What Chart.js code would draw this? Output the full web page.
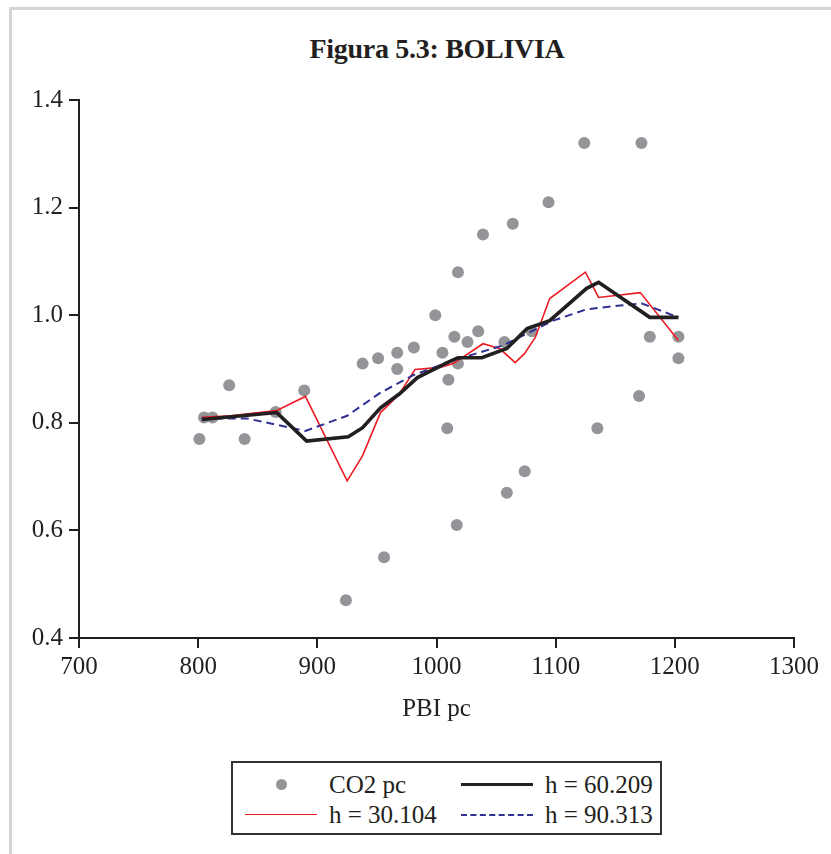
<!DOCTYPE html>
<html>
<head>
<meta charset="utf-8">
<script src="https://cdn.jsdelivr.net/npm/chart.js"></script>
<style>
  html, body { margin: 0; padding: 0; background: #fff; }
  body { width: 831px; height: 854px; position: relative; overflow: hidden; font-family: 'Liberation Serif', 'Times New Roman', serif; color: #231f20; }
  #frame { position: absolute; left: 9px; top: 7px; right: -10px; bottom: -10px; border-left: 3px solid #d4d4d4; border-top: 3px solid #d4d4d4; }
  #title { position: absolute; left: 0; width: 874px; top: 35px; text-align: center; font-weight: bold; font-size: 28px; line-height: 28px; letter-spacing: -0.3px; }
  #chartWrap { position: absolute; left: 0; top: 0; width: 831px; height: 724px; }
  #legend { position: absolute; left: 231px; top: 761px; width: 427px; height: 70px; border: 2px solid #333; font-size: 25px; }
  .item { position: absolute; height: 30px; line-height: 30px; }
  .mark { position: absolute; top: 15px; }
</style>
</head>
<body>
<div id="frame"></div>
<div id="title">Figura 5.3: BOLIVIA</div>
<div id="chartWrap"><canvas id="c" width="831" height="724"></canvas></div>
<div id="legend"></div>
<script>
// CO2 pc (scatter)
const pbiPc = [801, 805, 812, 826, 839, 865, 889, 924, 938, 951, 956, 967, 967, 981, 999, 1005, 1009, 1010, 1015, 1017, 1018, 1018, 1026, 1035, 1039, 1057, 1059, 1064, 1074, 1080, 1094, 1124, 1135, 1170, 1172, 1179, 1203, 1203];
const co2Pc = [0.77, 0.81, 0.81, 0.87, 0.77, 0.82, 0.86, 0.47, 0.91, 0.92, 0.55, 0.93, 0.90, 0.94, 1.00, 0.93, 0.79, 0.88, 0.96, 0.61, 0.91, 1.08, 0.95, 0.97, 1.15, 0.95, 0.67, 1.17, 0.71, 0.97, 1.21, 1.32, 0.79, 0.85, 1.32, 0.96, 0.96, 0.92];

// h = 30.104
const h30x = [803, 827, 866, 890, 925, 938, 953, 968, 982, 1003, 1014, 1039, 1053, 1066, 1074, 1083, 1095, 1125, 1136, 1171, 1203];
const h30y = [0.810, 0.813, 0.823, 0.849, 0.692, 0.739, 0.819, 0.851, 0.899, 0.903, 0.910, 0.947, 0.938, 0.912, 0.929, 0.959, 1.031, 1.080, 1.033, 1.042, 0.953];

// h = 60.209
const h60x = [803, 866, 891, 926, 938, 953, 969, 984, 1009, 1018, 1038, 1059, 1076, 1095, 1126, 1136, 1179, 1203];
const h60y = [0.806, 0.819, 0.766, 0.774, 0.791, 0.828, 0.854, 0.884, 0.912, 0.921, 0.921, 0.938, 0.975, 0.990, 1.050, 1.061, 0.996, 0.996];

// h = 90.313
const h90x = [803, 841, 890, 925, 953, 980, 1014, 1056, 1098, 1126, 1154, 1172, 1203];
const h90y = [0.808, 0.808, 0.785, 0.813, 0.856, 0.888, 0.916, 0.944, 0.990, 1.011, 1.018, 1.022, 0.996];

const xTicks = [700, 800, 900, 1000, 1100, 1200, 1300];
const yTicks = [0.4, 0.6, 0.8, 1.0, 1.2, 1.4];

const serif = "'Liberation Serif', 'Times New Roman', serif";
const ink = '#231f20';

function pts(xs, ys) {
  return xs.map((x, i) => ({ x: x, y: ys[i] }));
}

const datasets = [
  {
    label: 'CO2 pc', type: 'scatter', data: pts(pbiPc, co2Pc),
    showLine: false, pointRadius: 6, pointBackgroundColor: '#939598', pointBorderWidth: 0,
    order: 10, legendKind: 'dot'
  },
  {
    label: 'h = 30.104', type: 'line', data: pts(h30x, h30y),
    borderColor: '#ed1c24', borderWidth: 1.6, pointRadius: 0, tension: 0, fill: false,
    order: 3, legendKind: 'line'
  },
  {
    label: 'h = 60.209', type: 'line', data: pts(h60x, h60y),
    borderColor: ink, borderWidth: 3.6, pointRadius: 0, tension: 0, fill: false,
    order: 1, legendKind: 'line'
  },
  {
    label: 'h = 90.313', type: 'line', data: pts(h90x, h90y),
    borderColor: '#2e3192', borderWidth: 2, borderDash: [8, 5], pointRadius: 0, tension: 0, fill: false,
    order: 2, legendKind: 'line'
  }
];

const chart = new Chart(document.getElementById('c'), {
  type: 'scatter',
  data: { datasets: datasets },
  options: {
    responsive: false,
    animation: false,
    layout: { padding: { left: 0, right: 37, top: 100, bottom: 0 } },
    plugins: { legend: { display: false }, title: { display: false }, tooltip: { enabled: false } },
    scales: {
      x: {
        type: 'linear', min: 700, max: 1300,
        afterBuildTicks: s => { s.ticks = xTicks.map(v => ({ value: v })); },
        afterFit: s => { s.height = 86; },
        grid: { drawOnChartArea: false, drawTicks: true, tickLength: 10, color: ink, lineWidth: 2 },
        border: { color: ink, width: 2 },
        ticks: { color: ink, padding: 4, maxRotation: 0, font: { family: serif, size: 25 }, callback: v => String(v) },
        title: { display: true, text: 'PBI pc', color: ink, padding: 0, font: { family: serif, size: 25 } }
      },
      y: {
        type: 'linear', min: 0.4, max: 1.4,
        afterBuildTicks: s => { s.ticks = yTicks.map(v => ({ value: v })); },
        afterFit: s => { s.width = 79; },
        grid: { drawOnChartArea: false, drawTicks: true, tickLength: 10, color: ink, lineWidth: 2 },
        border: { color: ink, width: 2 },
        ticks: { color: ink, padding: 6, font: { family: serif, size: 25 }, callback: v => v.toFixed(1) }
      }
    }
  }
});

// legend box, built from the datasets
const legend = document.getElementById('legend');
const slots = [
  { mx: 12, tx: 96, ty: 7 },
  { mx: 12, tx: 96, ty: 37 },
  { mx: 228, tx: 312, ty: 7 },
  { mx: 228, tx: 312, ty: 37 }
];
chart.data.datasets.forEach((ds, i) => {
  const s = slots[i];
  const mark = document.createElement('div');
  mark.className = 'mark';
  if (ds.legendKind === 'dot') {
    Object.assign(mark.style, {
      left: (s.mx + 31) + 'px', top: (s.ty + 15 - 6) + 'px', width: '11px', height: '11px',
      borderRadius: '50%', background: ds.pointBackgroundColor
    });
  } else {
    const w = ds.borderWidth;
    Object.assign(mark.style, {
      left: s.mx + 'px', top: (s.ty + 15 - w / 2) + 'px', width: '72px', height: '0px',
      borderTop: w + 'px ' + (ds.borderDash ? 'dashed' : 'solid') + ' ' + ds.borderColor
    });
  }
  legend.appendChild(mark);
  const item = document.createElement('div');
  item.className = 'item';
  item.style.left = s.tx + 'px';
  item.style.top = s.ty + 'px';
  item.textContent = ds.label;
  legend.appendChild(item);
});
</script>
</body>
</html>
